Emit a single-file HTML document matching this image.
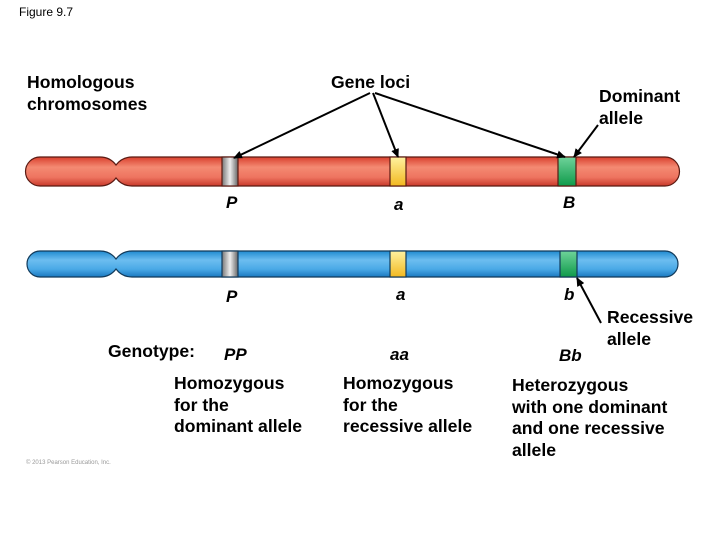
<!DOCTYPE html>
<html><head><meta charset="utf-8"><style>
html,body{margin:0;padding:0;background:#fff;}
svg{display:block;}
text{font-family:"Liberation Sans",Arial,sans-serif;}
.b{font-weight:bold;font-size:17.6px;fill:#000;}
.i{font-weight:bold;font-style:italic;font-size:17px;fill:#000;}
</style></head><body>
<svg width="720" height="540" viewBox="0 0 720 540" xmlns="http://www.w3.org/2000/svg">
<defs>
<linearGradient id="rg" x1="0" y1="0" x2="0" y2="1">
<stop offset="0" stop-color="#d9402e"/><stop offset="0.35" stop-color="#f48a72"/><stop offset="0.7" stop-color="#ee7460"/><stop offset="1" stop-color="#c8392a"/></linearGradient>
<linearGradient id="bg" x1="0" y1="0" x2="0" y2="1">
<stop offset="0" stop-color="#1f8ad0"/><stop offset="0.35" stop-color="#6cbdf0"/><stop offset="0.7" stop-color="#4aa9e6"/><stop offset="1" stop-color="#1a78c0"/></linearGradient>
<linearGradient id="gy" x1="0" y1="0" x2="1" y2="0"><stop offset="0" stop-color="#777"/><stop offset="0.5" stop-color="#eee"/><stop offset="1" stop-color="#666"/></linearGradient>
<linearGradient id="yl" x1="0" y1="0" x2="0" y2="1"><stop offset="0" stop-color="#fff2a0"/><stop offset="1" stop-color="#f2b820"/></linearGradient>
<linearGradient id="gr" x1="0" y1="0" x2="0" y2="1"><stop offset="0" stop-color="#6ed39a"/><stop offset="1" stop-color="#0f9a4a"/></linearGradient>
<marker id="ah" markerWidth="10" markerHeight="10" refX="8" refY="5" orient="auto" markerUnits="userSpaceOnUse"><path d="M0,1 L9,5 L0,9 z" fill="#000"/></marker>
</defs>
<text x="19" y="16" font-size="12" fill="#000">Figure 9.7</text>
<text x="27" y="88" class="b">Homologous</text>
<text x="27" y="110" class="b">chromosomes</text>
<text x="331" y="88" class="b">Gene loci</text>
<text x="599" y="102" class="b">Dominant</text>
<text x="599" y="124" class="b">allele</text>

<g stroke="#5a1a12" stroke-width="1.2">
<path d="M40,157 L100,157 Q110,157 116,165 Q122,157 132,157 L665,157 A14.5,14.5 0 0 1 665,186 L132,186 Q122,186 116,178 Q110,186 100,186 L40,186 A14.5,14.5 0 0 1 40,157 Z" fill="url(#rg)"/>
<rect x="222" y="157" width="16" height="29" fill="url(#gy)"/>
<rect x="390" y="157" width="16" height="29" fill="url(#yl)"/>
<rect x="558" y="157" width="18" height="29" fill="url(#gr)"/>
</g>
<g stroke="#123a5a" stroke-width="1.2">
<path d="M40,251 L100,251 Q110,251 116,259 Q122,251 132,251 L665,251 A13,13 0 0 1 665,277 L132,277 Q122,277 116,269 Q110,277 100,277 L40,277 A13,13 0 0 1 40,251 Z" fill="url(#bg)"/>
<rect x="222" y="251" width="16" height="26" fill="url(#gy)"/>
<rect x="390" y="251" width="16" height="26" fill="url(#yl)"/>
<rect x="560" y="251" width="17" height="26" fill="url(#gr)"/>
</g>

<g stroke="#000" stroke-width="2" fill="none" marker-end="url(#ah)">
<line x1="370" y1="93" x2="234" y2="158"/>
<line x1="373" y1="93" x2="398" y2="157"/>
<line x1="375" y1="93" x2="565" y2="157"/>
<line x1="598" y1="125" x2="574" y2="157"/>
<line x1="601" y1="323" x2="577" y2="278"/>
</g>

<text x="226" y="208" class="i">P</text>
<text x="394" y="210" class="i">a</text>
<text x="563" y="208" class="i">B</text>
<text x="226" y="302" class="i">P</text>
<text x="396" y="300" class="i">a</text>
<text x="564" y="300" class="i">b</text>
<text x="607" y="323" class="b">Recessive</text>
<text x="607" y="345" class="b">allele</text>

<text x="108" y="357" class="b">Genotype:</text>
<text x="224" y="360" class="i">PP</text>
<text x="390" y="360" class="i">aa</text>
<text x="559" y="361" class="i">Bb</text>

<text x="174" y="389" class="b">Homozygous</text>
<text x="174" y="411" class="b">for the</text>
<text x="174" y="432" class="b">dominant allele</text>
<text x="343" y="389" class="b">Homozygous</text>
<text x="343" y="411" class="b">for the</text>
<text x="343" y="432" class="b">recessive allele</text>
<text x="512" y="391" class="b">Heterozygous</text>
<text x="512" y="413" class="b">with one dominant</text>
<text x="512" y="434" class="b">and one recessive</text>
<text x="512" y="456" class="b">allele</text>
<text x="26" y="464" font-size="6" fill="#999">© 2013 Pearson Education, Inc.</text>
</svg>
</body></html>
